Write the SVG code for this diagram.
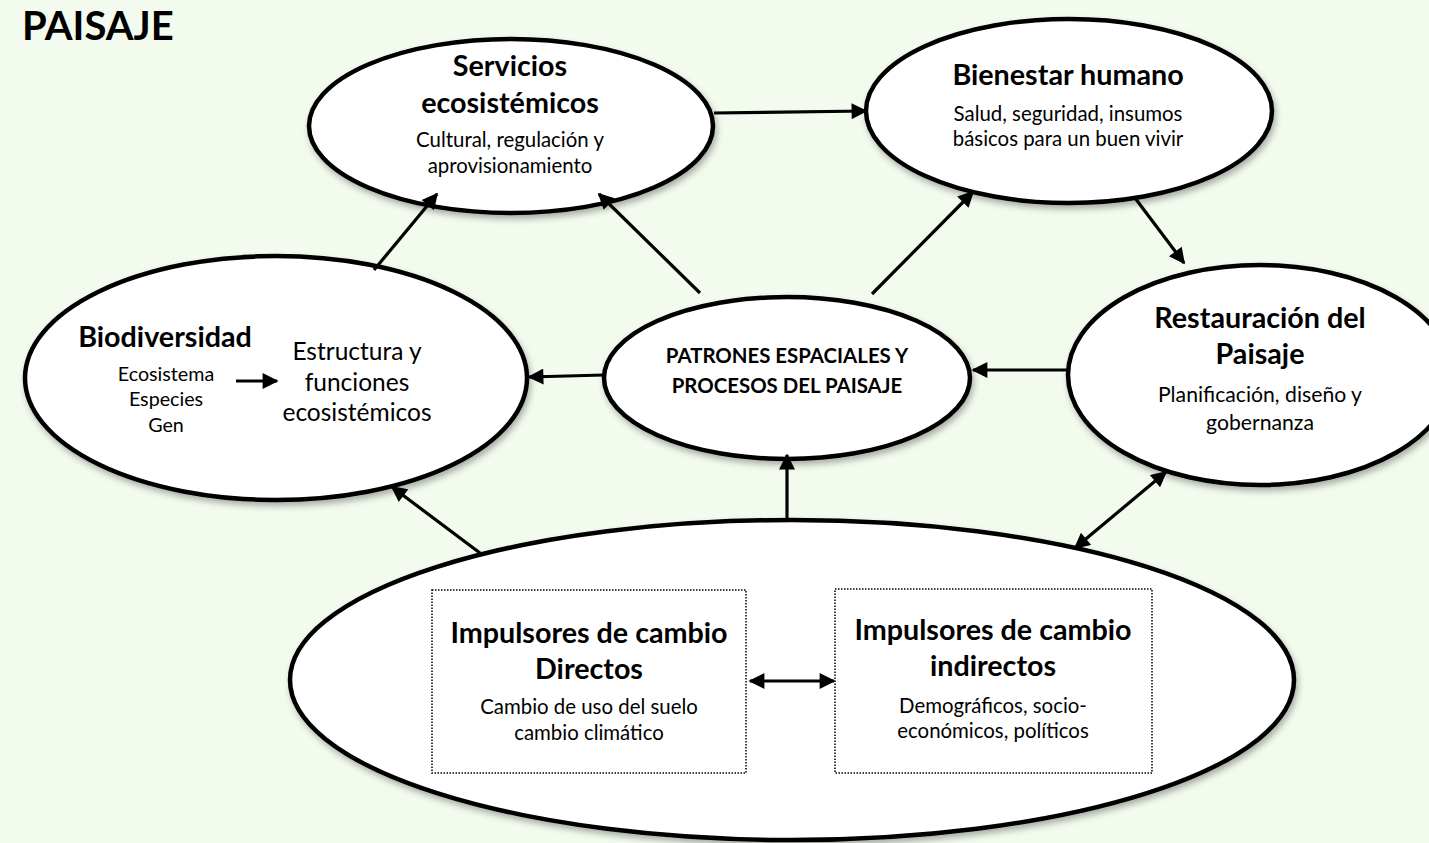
<svg xmlns="http://www.w3.org/2000/svg" width="1429" height="843" viewBox="0 0 1429 843">
<defs>
<style>
.node{fill:#fff;stroke:#000;stroke-width:4.5;filter:url(#sh)}
.box{fill:none;stroke:#000;stroke-width:1.5;stroke-dasharray:1.5 1.5}
.t{font-family:Lato,"Open Sans",sans-serif;text-anchor:middle;fill:#000}
.b{font-weight:bold}
.h{font-size:28.7px;font-weight:bold}
.s{font-size:20.4px}
.con{stroke:#000;stroke-width:3.2;fill:none}
</style>
<filter id="sh" x="-10%" y="-10%" width="125%" height="130%">
<feDropShadow dx="2" dy="4" stdDeviation="3" flood-color="#000" flood-opacity="0.3"/>
</filter>
<marker id="ah" viewBox="0 0 10 10" refX="9" refY="5" markerWidth="18" markerHeight="16" markerUnits="userSpaceOnUse" orient="auto-start-reverse">
<path d="M0,0 L10,5 L0,10 z" fill="#000"/>
</marker>
</defs>
<rect width="1429" height="843" fill="#f3fbee"/>
<text x="22" y="40" class="t b" style="text-anchor:start;font-size:40px">PAISAJE</text>

<g id="servicios">
<ellipse class="node" cx="511" cy="126" rx="202" ry="87"/>
<text class="t h" x="510" y="76">Servicios</text>
<text class="t h" x="510" y="113">ecosistémicos</text>
<text class="t s" x="510" y="147">Cultural, regulación y</text>
<text class="t s" x="510" y="173">aprovisionamiento</text>
</g>

<g id="bienestar">
<ellipse class="node" cx="1069" cy="111" rx="203" ry="92"/>
<text class="t h" x="1068" y="85">Bienestar humano</text>
<text class="t s" x="1068" y="121">Salud, seguridad, insumos</text>
<text class="t s" x="1068" y="146">básicos para un buen vivir</text>
</g>

<g id="biodiversidad">
<ellipse class="node" cx="276" cy="378" rx="251" ry="122"/>
<text class="t h" x="165" y="347">Biodiversidad</text>
<text class="t" x="166" y="381" font-size="19.7">Ecosistema</text>
<text class="t" x="166" y="406" font-size="19.7">Especies</text>
<text class="t" x="166" y="432" font-size="19.7">Gen</text>
<text class="t" x="357" y="360" font-size="24.5">Estructura y</text>
<text class="t" x="357" y="391" font-size="24.5">funciones</text>
<text class="t" x="357" y="421" font-size="24.5">ecosistémicos</text>
</g>

<g id="patrones">
<ellipse class="node" cx="787" cy="378" rx="183" ry="81"/>
<text class="t b s" x="787" y="363">PATRONES ESPACIALES Y</text>
<text class="t b s" x="787" y="393">PROCESOS DEL PAISAJE</text>
</g>

<g id="restauracion">
<ellipse class="node" cx="1260" cy="375" rx="192" ry="110"/>
<text class="t h" x="1260" y="328">Restauración del</text>
<text class="t h" x="1260" y="364">Paisaje</text>
<text class="t" x="1260" y="402" font-size="21.2">Planificación, diseño y</text>
<text class="t" x="1260" y="430" font-size="21.2">gobernanza</text>
</g>

<g id="impulsores">
<ellipse class="node" cx="792" cy="680" rx="502" ry="160"/>
</g>

<g id="directos">
<rect class="box" x="432" y="590" width="314" height="183"/>
<text class="t h" x="589" y="643">Impulsores de cambio</text>
<text class="t h" x="589" y="679">Directos</text>
<text class="t s" x="589" y="714">Cambio de uso del suelo</text>
<text class="t s" x="589" y="740">cambio climático</text>
</g>

<g id="indirectos">
<rect class="box" x="835" y="589" width="317" height="184"/>
<text class="t h" x="993" y="640">Impulsores de cambio</text>
<text class="t h" x="993" y="676">indirectos</text>
<text class="t s" x="993" y="713">Demográficos, socio-</text>
<text class="t s" x="993" y="738">económicos, políticos</text>
</g>

<g id="connectors">
<line class="con" x1="714" y1="113" x2="866" y2="111" marker-end="url(#ah)"/>
<line class="con" x1="374" y1="270" x2="437" y2="194" marker-end="url(#ah)"/>
<line class="con" x1="700" y1="293" x2="599" y2="194" marker-end="url(#ah)"/>
<line class="con" x1="872" y1="294" x2="973" y2="192" marker-end="url(#ah)"/>
<line class="con" x1="1135" y1="198" x2="1184" y2="263" marker-end="url(#ah)"/>
<line class="con" x1="1068" y1="370" x2="973" y2="370" marker-end="url(#ah)"/>
<line class="con" x1="604" y1="375" x2="529" y2="377" marker-end="url(#ah)"/>
<line class="con" x1="480" y1="553" x2="392" y2="487" marker-end="url(#ah)"/>
<line class="con" x1="787" y1="520" x2="787" y2="455" marker-end="url(#ah)"/>
<line class="con" x1="1075" y1="548" x2="1166" y2="472" marker-start="url(#ah)" marker-end="url(#ah)"/>
<line class="con" x1="750" y1="681" x2="834" y2="681" marker-start="url(#ah)" marker-end="url(#ah)"/>
<line class="con" x1="236" y1="381" x2="277" y2="381" stroke-width="5" marker-end="url(#ah)"/>
</g>
</svg>
